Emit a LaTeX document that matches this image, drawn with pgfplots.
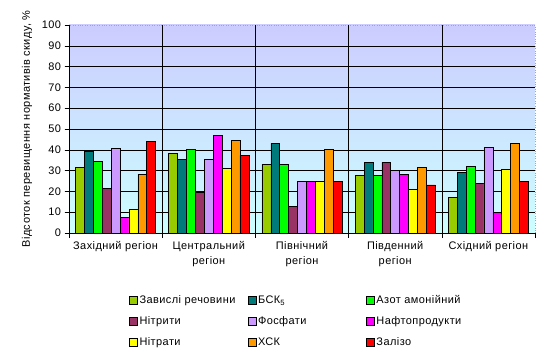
\documentclass[border=0pt]{standalone}
\usepackage{fontspec}
\setmainfont{Liberation Sans}[LetterSpace=4]
\usepackage{pgfplots}
\usepackage{pgfplotstable}
\pgfplotsset{compat=1.18}
\definecolor{cOlive}{HTML}{99CC00}
\definecolor{cTeal}{HTML}{007A7A}
\definecolor{cGreen}{HTML}{00FF00}
\definecolor{cMaroon}{HTML}{993366}
\definecolor{cLilac}{HTML}{CC99FF}
\definecolor{cMagenta}{HTML}{FF00FF}
\definecolor{cYellow}{HTML}{FFFF00}
\definecolor{cOrange}{HTML}{FF9900}
\definecolor{cRed}{HTML}{FF0000}
\definecolor{bgTop}{HTML}{CCCCFF}
\definecolor{bgBot}{HTML}{CCFFFF}
\pgfplotstableread{
x   s1   s2   s3   s4   s5   s6   s7   s8   s9
0.5 31.7 39.3 34.5 21.5 40.7 7.5  11.4 28.2 44.1
1.5 38.3 35.4 40.2 19.7 35.4 47.0 31.1 44.6 37.3
2.5 33.0 43.1 33.0 12.8 24.8 24.8 24.8 40.2 24.8
3.5 27.7 34.0 27.7 34.0 30.1 28.2 21.0 31.6 23.1
4.5 17.1 29.2 32.0 23.9 41.2 9.9  30.6 43.1 24.8
}\datatable
\newcommand{\lt}[1]{\makebox[106bp][l]{#1}}
\begin{document}
\begin{tikzpicture}
\useasboundingbox (-69bp,-124bp) rectangle (480bp,233bp);
\begin{axis}[
  scale only axis,
  width=466bp, height=208bp,
  font=\fontsize{11}{13}\selectfont,
  /pgf/number format/assume math mode=true,
  xmin=0, xmax=5, ymin=0, ymax=100,
  axis lines*=left,
  axis line style={black, line width=0.6pt},
  axis background/.style={shade, top color=bgTop, bottom color=bgBot, draw=gray!70, dotted},
  tick align=outside,
  major tick length=4.5bp,
  tick style={black, line width=0.6pt},
  xtick={0,1,2,3,4,5},
  x tick label as interval,
  xticklabels={Західний регіон, {Центральний\\регіон}, {Північний\\регіон}, {Південний\\регіон}, Східний регіон},
  xticklabel style={align=center, font=\fontsize{11}{15}\selectfont},
  extra x ticks={1,2,3,4},
  extra x tick labels={},
  extra x tick style={grid=major, major grid style={black, line width=0.6pt}},
  ytick={0,10,...,100},
  extra y ticks={10,20,...,90},
  extra y tick labels={},
  extra y tick style={grid=major, major grid style={black, line width=0.6pt}},
  ylabel={Відсоток перевищення нормативів скиду, \%},
  ylabel style={at={(axis description cs:-0.0901,0.5)}, anchor=center},
  ybar=0pt,
  bar width=0.0955,
  every axis plot/.append style={draw=black, line width=0.6pt},
  legend columns=3,
  legend style={at={(axis description cs:0.122,-0.282)}, anchor=north west, draw=none, fill=none,
    /tikz/every odd column/.append style={column sep=0bp},
    row sep=7.5bp, font=\fontsize{11}{13}\selectfont},
  legend cell align=left,
  legend image code/.code={\draw[#1, line width=0.5pt] (0bp,-4bp) rectangle (8bp,4bp);},
]
\addplot[fill=cOlive] table[x=x,y=s1]{\datatable};
\addplot[fill=cTeal] table[x=x,y=s2]{\datatable};
\addplot[fill=cGreen] table[x=x,y=s3]{\datatable};
\addplot[fill=cMaroon] table[x=x,y=s4]{\datatable};
\addplot[fill=cLilac] table[x=x,y=s5]{\datatable};
\addplot[fill=cMagenta] table[x=x,y=s6]{\datatable};
\addplot[fill=cYellow] table[x=x,y=s7]{\datatable};
\addplot[fill=cOrange] table[x=x,y=s8]{\datatable};
\addplot[fill=cRed] table[x=x,y=s9]{\datatable};
\legend{\lt{Завислі речовини}, \lt{БСК\textsubscript{5}}, \lt{Азот амонійний}, \lt{Нітрити}, \lt{Фосфати}, \lt{Нафтопродукти}, \lt{Нітрати}, \lt{ХСК}, \lt{Залізо}}
\end{axis}
\end{tikzpicture}
\end{document}
